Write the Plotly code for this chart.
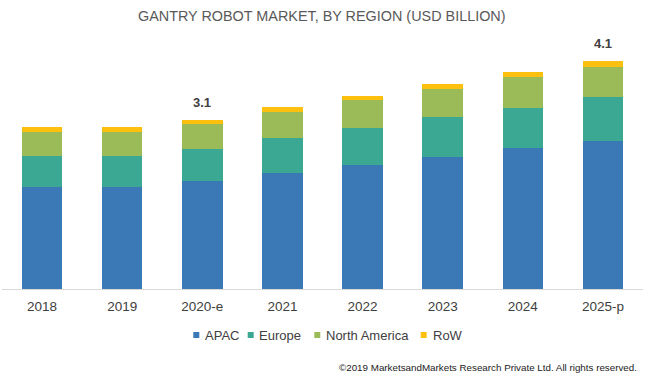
import plotly.graph_objects as go

years = ["2018", "2019", "2020-e", "2021", "2022", "2023", "2024", "2025-p"]
apac = [1.85, 1.85, 1.96, 2.11, 2.26, 2.40, 2.56, 2.70]
europe = [0.57, 0.57, 0.59, 0.64, 0.67, 0.73, 0.74, 0.79]
north_america = [0.44, 0.44, 0.45, 0.47, 0.50, 0.50, 0.55, 0.55]
row = [0.09, 0.09, 0.07, 0.085, 0.085, 0.09, 0.09, 0.10]
total_labels = {"2020-e": "3.1", "2025-p": "4.1"}

series = [
    ("APAC", apac, "#3A78B6"),
    ("Europe", europe, "#3BA894"),
    ("North America", north_america, "#9BBB59"),
    ("RoW", row, "#FEC00F"),
]

W, H = 650, 379
ML, MR, MT, MB = 2, 7, 40, 90
PW, PH = W - ML - MR, H - MT - MB


def px2x(px):
    return (px - ML) / PW


def py2y(py):
    return (H - MB - py) / PH


fig = go.Figure()
for name, vals, color in series:
    fig.add_trace(go.Bar(x=years, y=vals, name=name, showlegend=False,
                         marker=dict(color=color, line=dict(width=0))))

totals = [a + b + c + d for a, b, c, d in zip(apac, europe, north_america, row)]
for yr, tot in zip(years, totals):
    if yr in total_labels:
        fig.add_annotation(x=yr, y=tot, text="<b>%s</b>" % total_labels[yr], showarrow=False,
                           yanchor="bottom", yshift=8, font=dict(size=13, color="#404040"))

# legend (drawn manually to match the compact spacing of the original)
legend_pos = [(193.3, 203.3), (247.7, 257.3), (314.3, 324.0), (420.7, 431.0)]
legend_cy = 335
for (name, vals, color), (sx, tx) in zip(series, legend_pos):
    fig.add_shape(type="rect", xref="paper", yref="paper",
                  x0=px2x(sx), x1=px2x(sx + 6), y0=py2y(legend_cy + 3), y1=py2y(legend_cy - 3),
                  fillcolor=color, line=dict(width=0))
    fig.add_annotation(xref="paper", yref="paper", x=px2x(tx), y=py2y(legend_cy),
                       xanchor="left", yanchor="middle", text=name, showarrow=False,
                       font=dict(size=13, color="#404040"))

fig.add_annotation(xref="paper", yref="paper", x=px2x(639), y=py2y(367.5), xanchor="right", yanchor="middle",
                   text="©2019 MarketsandMarkets Research Private Ltd. All rights reserved.",
                   showarrow=False, font=dict(size=9.8, color="#222222"))

fig.update_layout(
    width=W, height=H,
    barmode="stack", bargap=0.495,
    margin=dict(l=ML, r=MR, t=MT, b=MB, autoexpand=False),
    paper_bgcolor="white", plot_bgcolor="white",
    font=dict(family="Liberation Sans, Arial, sans-serif"),
    title=dict(text="GANTRY ROBOT MARKET, BY REGION (USD BILLION)", x=0.495, xanchor="center",
               y=1 - 16 / H, yanchor="middle", font=dict(size=14.4, color="#595959")),
    xaxis=dict(showline=True, linecolor="#D9D9D9", linewidth=1, ticks="", showgrid=False,
               ticklabelstandoff=5, automargin=False,
               tickfont=dict(size=13.5, color="#404040")),
    yaxis=dict(range=[0, PH / 55.0], visible=False, showgrid=False, zeroline=False),
    showlegend=False,
    hovermode=False,
)

fig.write_html("out.html", config={"displayModeBar": False},
               post_script="document.body.style.margin='0';")
